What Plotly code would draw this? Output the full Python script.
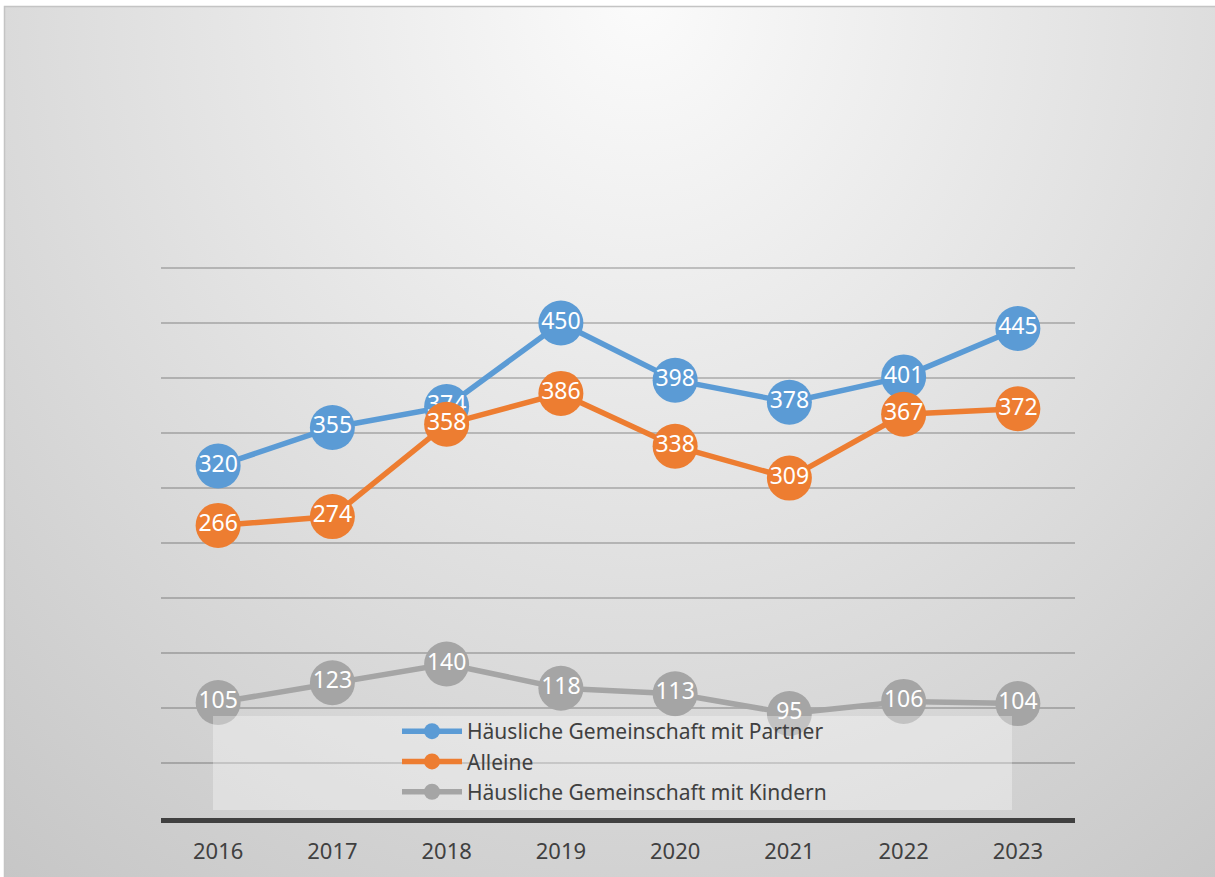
import base64
import plotly.graph_objects as go

years = ["2016", "2017", "2018", "2019", "2020", "2021", "2022", "2023"]
partner = [320, 355, 374, 450, 398, 378, 401, 445]
alleine = [266, 274, 358, 386, 338, 309, 367, 372]
kinder = [105, 123, 140, 118, 113, 95, 106, 104]

names = ["Häusliche Gemeinschaft mit Partner", "Alleine", "Häusliche Gemeinschaft mit Kindern"]
colors = ["#5B9BD5", "#ED7D31", "#A5A5A5"]
series = [partner, alleine, kinder]

W, H = 1215, 877
L, R, T, B = 161, 1075, 266, 818
PW, PH = R - L, B - T
YMAX = (B - T) / 1.1  # 1.1 px per unit, 500 lands at y=268
FONT = "Noto Sans"

fig = go.Figure()
for name, col, vals in zip(names, colors, series):
    fig.add_trace(go.Scatter(
        x=years, y=vals, name=name, legendgroup=name,
        mode="lines+markers+text",
        line=dict(color=col, width=5.5),
        marker=dict(color=col, size=45),
        text=[str(v) for v in vals],
        textposition="middle center",
        textfont=dict(color="white", size=23, family=FONT),
        cliponaxis=False,
    ))

svg = f'''<svg xmlns="http://www.w3.org/2000/svg" width="{W}" height="{H}" viewBox="0 0 {W} {H}">
<defs><radialGradient id="g" gradientUnits="userSpaceOnUse" cx="640" cy="0" r="1100"
gradientTransform="translate(640 0) scale(1 1.1) translate(-640 0)">
<stop offset="0" stop-color="#fbfbfb"/><stop offset="1" stop-color="#c2c2c2"/></radialGradient></defs>
<rect x="4.5" y="6.5" width="1212" height="872" fill="url(#g)" stroke="#c4c4c4" stroke-width="1.5"/></svg>'''
src = "data:image/svg+xml;base64," + base64.b64encode(svg.encode()).decode()

fig.add_layout_image(dict(
    source=src, xref="paper", yref="paper",
    x=-L / PW, y=B / PH, sizex=W / PW, sizey=H / PH,
    xanchor="left", yanchor="top", sizing="stretch", layer="below",
))

# semi-transparent legend panel
fig.add_shape(type="rect", xref="paper", yref="paper",
              x0=(213 - L) / PW, x1=(1012 - L) / PW,
              y0=(B - 810) / PH, y1=(B - 716) / PH,
              fillcolor="rgba(255,255,255,0.33)", line=dict(width=0), layer="above")

fig.update_layout(
    width=W, height=H,
    margin=dict(l=L, r=W - R, t=T, b=H - B, autoexpand=False),
    paper_bgcolor="white", plot_bgcolor="rgba(0,0,0,0)",
    font=dict(family=FONT, color="#404040"),
    showlegend=True,
    legend=dict(
        x=(397 - L) / PW, y=(B - 711) / PH, xanchor="left", yanchor="top",
        bgcolor="rgba(0,0,0,0)", font=dict(size=21, color="#404040", family=FONT),
        traceorder="grouped", tracegroupgap=0, itemwidth=60,
    ),
    xaxis=dict(
        type="category", range=[-0.5, 7.5], showgrid=False,
        showline=True, linecolor="#404040", linewidth=5,
        ticks="", tickfont=dict(size=22, color="#404040", family=FONT),
        ticklabelstandoff=10,
    ),
    yaxis=dict(
        range=[0, YMAX], dtick=50, showgrid=True,
        gridcolor="rgba(0,0,0,0.2)", gridwidth=2,
        zeroline=False, showticklabels=False, showline=False,
    ),
)

fig.write_html("out.html", config={"displayModeBar": False},
               post_script="document.body.style.margin='0';document.body.style.overflow='hidden';")
